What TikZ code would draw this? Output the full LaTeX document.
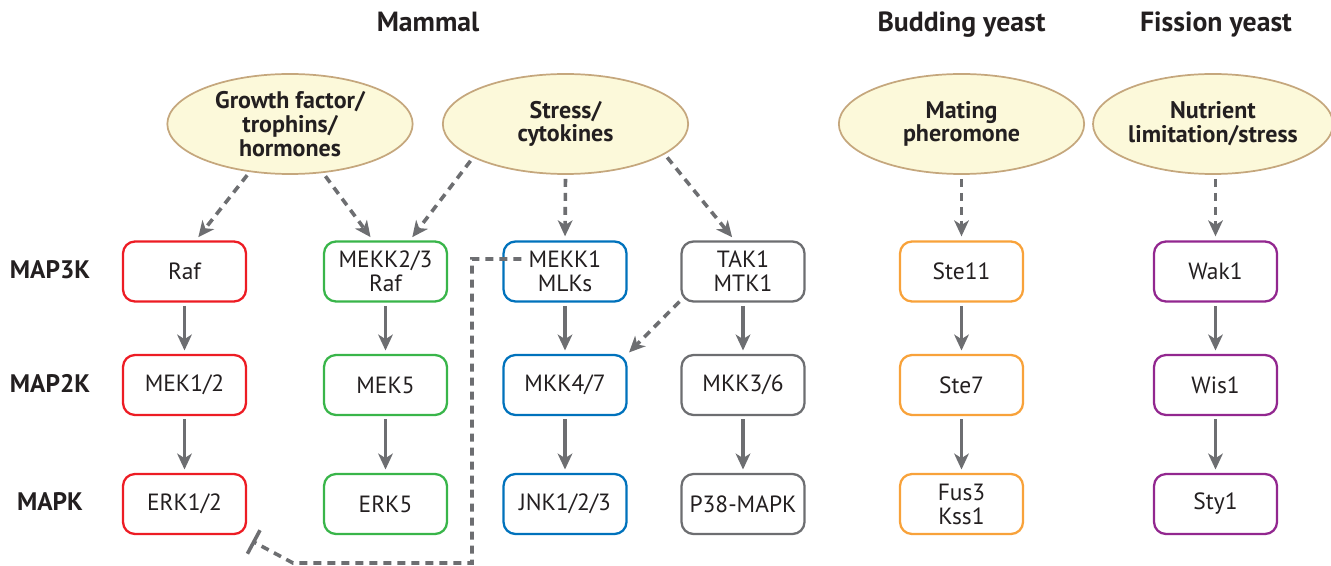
\documentclass[tikz,border=0pt]{standalone}
\usepackage{fontspec}
\setmainfont{PT Sans}
\usetikzlibrary{arrows.meta,shapes.geometric,calc}

\definecolor{ink}{RGB}{35,31,32}
\definecolor{arrowgray}{RGB}{109,110,113}
\definecolor{redc}{RGB}{237,28,36}
\definecolor{greenc}{RGB}{57,181,74}
\definecolor{bluec}{RGB}{0,114,188}
\definecolor{grayc}{RGB}{109,110,113}
\definecolor{orangec}{RGB}{248,162,58}
\definecolor{purplec}{RGB}{146,39,143}
\definecolor{cream}{RGB}{252,249,218}
\definecolor{tan}{RGB}{197,167,125}

\newcommand{\boxfont}{\fontsize{17.6}{18}\selectfont}
\newcommand{\stimfont}{\fontsize{18}{17.8}\selectfont\bfseries}
\newcommand{\headfont}{\fontsize{20.8}{22}\selectfont\bfseries}
\newcommand{\rowfont}{\fontsize{19}{20}\selectfont\bfseries}

\tikzset{
  kinase/.style={draw, fill=white, rounded corners=9pt, line width=1.7pt,
    minimum width=92.25pt, minimum height=45pt, inner sep=0pt,
    align=center, text=ink, font=\boxfont},
  stim/.style={ellipse, draw=tan, fill=cream, line width=1.3pt,
    minimum width=184pt, minimum height=75pt, inner sep=0pt,
    align=center, text=ink, font=\stimfont},
  heading/.style={text=ink, font=\headfont, anchor=base},
  rowlabel/.style={text=ink, font=\rowfont},
  act/.style={draw=arrowgray, line width=2.9pt,
    -{Stealth[length=12pt, width=11pt, inset=3.5pt]},
    shorten <=2.5pt, shorten >=2.5pt},
  indirect/.style={draw=arrowgray, line width=2.7pt, dash pattern=on 6pt off 4.5pt,
    -{Stealth[length=12pt, width=11pt, inset=3.5pt]},
    shorten <=3pt, shorten >=3pt},
  inhib/.style={draw=arrowgray, line width=2.7pt, dash pattern=on 6pt off 4.5pt,
    -{Bar[width=20pt, line width=2.7pt]}},
}

\begin{document}
\begin{tikzpicture}[x=0.75pt, y=-0.75pt]
\path[use as bounding box] (0,0) rectangle (1331,566);

% group headings
\node[heading] (hmam) at (428,32) {Mammal};
\node[heading] (hbud) at (961.5,32) {Budding yeast};
\node[heading] (hfis) at (1216,32) {Fission yeast};

% tier labels
\node[rowlabel] (l3) at (50,270) {MAP3K};
\node[rowlabel] (l2) at (50,383) {MAP2K};
\node[rowlabel] (l1) at (50,502) {MAPK};

% stimuli
\node[stim] (gf) at (290,124) {Growth factor/\\trophins/\\hormones};
\node[stim] (st) at (565.5,124) {Stress/\\cytokines};
\node[stim] (mp) at (961.5,124) {Mating\\pheromone};
\node[stim, minimum width=180pt] (nl) at (1213,124) {Nutrient\\limitation/stress};

% ERK1/2 module
\node[kinase, draw=redc] (raf) at (184.5,271.5) {Raf};
\node[kinase, draw=redc] (mek12) at (184.5,385) {MEK1/2};
\node[kinase, draw=redc] (erk12) at (184.5,504) {ERK1/2};

% ERK5 module
\node[kinase, draw=greenc] (mekk23) at (385.5,271.5) {MEKK2/3\\Raf};
\node[kinase, draw=greenc] (mek5) at (385.5,385) {MEK5};
\node[kinase, draw=greenc] (erk5) at (385.5,504) {ERK5};

% JNK module
\node[kinase, draw=bluec] (mekk1) at (565,271.5) {MEKK1\\MLKs};
\node[kinase, draw=bluec] (mkk47) at (565,385) {MKK4/7};
\node[kinase, draw=bluec] (jnk) at (565,504) {JNK1/2/3};

% p38 module
\node[kinase, draw=grayc] (tak1) at (743,271.5) {TAK1\\MTK1};
\node[kinase, draw=grayc] (mkk36) at (743,385) {MKK3/6};
\node[kinase, draw=grayc] (p38) at (743,504) {P38-MAPK};

% budding yeast module
\node[kinase, draw=orangec] (ste11) at (961.5,271.5) {Ste11};
\node[kinase, draw=orangec] (ste7) at (961.5,385) {Ste7};
\node[kinase, draw=orangec] (fus3) at (961.5,504) {Fus3\\Kss1};

% fission yeast module
\node[kinase, draw=purplec] (wak1) at (1215.5,271.5) {Wak1};
\node[kinase, draw=purplec] (wis1) at (1215.5,385) {Wis1};
\node[kinase, draw=purplec] (sty1) at (1215.5,504) {Sty1};

% kinase cascades
\foreach \a/\b in {raf/mek12, mek12/erk12, mekk23/mek5, mek5/erk5,
                   mekk1/mkk47, mkk47/jnk, tak1/mkk36, mkk36/p38,
                   ste11/ste7, ste7/fus3, wak1/wis1, wis1/sty1}
  \draw[act] (\a.south) -- (\b.north);

% stimulus inputs
\draw[indirect] (gf.-130) -- (raf.70);
\draw[indirect] (gf.-56) -- (mekk23.112);
\draw[indirect] (st.-160) -- (mekk23.52);
\draw[indirect] (st.south) -- (mekk1.north);
\draw[indirect] (st.-17) -- (tak1.105);
\draw[indirect] (mp.south) -- (ste11.north);
\draw[indirect] (wak1.north |- nl.south) -- (wak1.north);

% TAK1 cross-talk to MKK4/7
\draw[indirect, shorten <=1pt, shorten >=1.5pt] (tak1.-155) -- (mkk47.north east);

% MEKK1 feedback inhibition of ERK1/2
\coordinate (mk1in) at ($(mekk1.west)+(19,-12.5)$);
\coordinate (turn1) at (472,563);
\coordinate (turn2) at (293,563);
\coordinate (blk) at ($(erk12.south east)+(5,6)$);
\draw[inhib] (mk1in) -| (turn1) -- (turn2) -- (blk);
\end{tikzpicture}
\end{document}
